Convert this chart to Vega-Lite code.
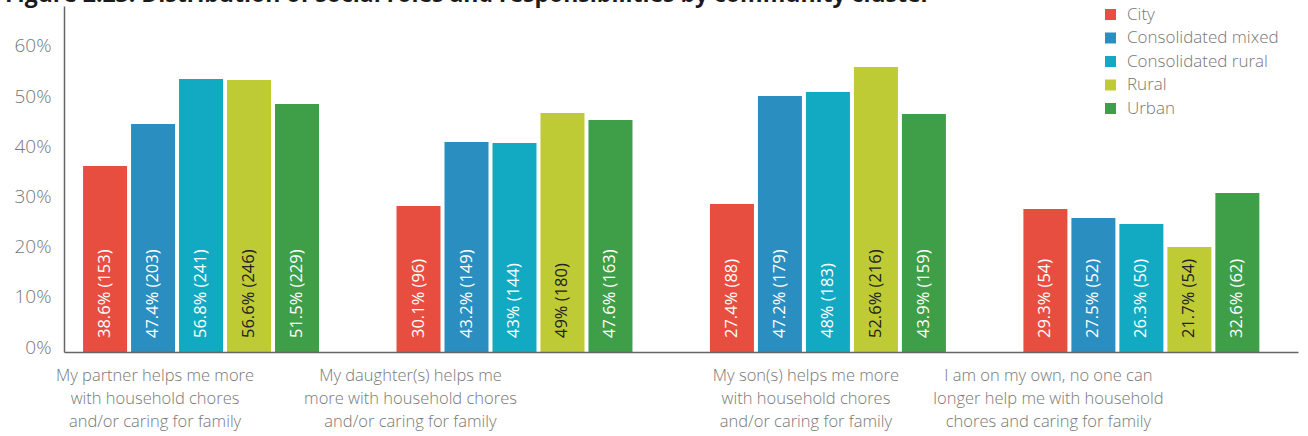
{
  "$schema": "https://vega.github.io/schema/vega-lite/v6.json",
  "autosize": "none",
  "padding": {"left": 64, "top": 6, "right": 10, "bottom": 84},
  "width": 1234,
  "height": 346,
  "background": "white",
  "title": {
    "text": "Figure 2.23: Distribution of social roles and responsibilities by community cluster",
    "anchor": "start",
    "frame": "group",
    "dx": -59,
    "offset": -19,
    "baseline": "alphabetic",
    "font": "Open Sans",
    "fontSize": 23,
    "fontWeight": "bold",
    "color": "#1a1a1a"
  },
  "config": {
    "view": {"stroke": null},
    "font": "Open Sans"
  },
  "data": {
    "values": [
      {"q": "My partner helps me more|with household chores|and/or caring for family", "cluster": "City", "bar": 37.07, "label": "38.6% (153)"},
      {"q": "My partner helps me more|with household chores|and/or caring for family", "cluster": "Consolidated mixed", "bar": 45.45, "label": "47.4% (203)"},
      {"q": "My partner helps me more|with household chores|and/or caring for family", "cluster": "Consolidated rural", "bar": 54.41, "label": "56.8% (241)"},
      {"q": "My partner helps me more|with household chores|and/or caring for family", "cluster": "Rural", "bar": 54.22, "label": "56.6% (246)"},
      {"q": "My partner helps me more|with household chores|and/or caring for family", "cluster": "Urban", "bar": 49.43, "label": "51.5% (229)"},
      {"q": "My daughter(s) helps me|more with household chores|and/or caring for family", "cluster": "City", "bar": 29.10, "label": "30.1% (96)"},
      {"q": "My daughter(s) helps me|more with household chores|and/or caring for family", "cluster": "Consolidated mixed", "bar": 41.86, "label": "43.2% (149)"},
      {"q": "My daughter(s) helps me|more with household chores|and/or caring for family", "cluster": "Consolidated rural", "bar": 41.66, "label": "43% (144)"},
      {"q": "My daughter(s) helps me|more with household chores|and/or caring for family", "cluster": "Rural", "bar": 47.64, "label": "49% (180)"},
      {"q": "My daughter(s) helps me|more with household chores|and/or caring for family", "cluster": "Urban", "bar": 46.24, "label": "47.6% (163)"},
      {"q": "My son(s) helps me more|with household chores|and/or caring for family", "cluster": "City", "bar": 29.50, "label": "27.4% (88)"},
      {"q": "My son(s) helps me more|with household chores|and/or caring for family", "cluster": "Consolidated mixed", "bar": 51.03, "label": "47.2% (179)"},
      {"q": "My son(s) helps me more|with household chores|and/or caring for family", "cluster": "Consolidated rural", "bar": 51.82, "label": "48% (183)"},
      {"q": "My son(s) helps me more|with household chores|and/or caring for family", "cluster": "Rural", "bar": 56.81, "label": "52.6% (216)"},
      {"q": "My son(s) helps me more|with household chores|and/or caring for family", "cluster": "Urban", "bar": 47.44, "label": "43.9% (159)"},
      {"q": "I am on my own, no one can|longer help me with household|chores and caring for family", "cluster": "City", "bar": 28.50, "label": "29.3% (54)"},
      {"q": "I am on my own, no one can|longer help me with household|chores and caring for family", "cluster": "Consolidated mixed", "bar": 26.71, "label": "27.5% (52)"},
      {"q": "I am on my own, no one can|longer help me with household|chores and caring for family", "cluster": "Consolidated rural", "bar": 25.51, "label": "26.3% (50)"},
      {"q": "I am on my own, no one can|longer help me with household|chores and caring for family", "cluster": "Rural", "bar": 20.93, "label": "21.7% (54)"},
      {"q": "I am on my own, no one can|longer help me with household|chores and caring for family", "cluster": "Urban", "bar": 31.69, "label": "32.6% (62)"}
    ]
  },
  "encoding": {
    "x": {
      "field": "q",
      "type": "nominal",
      "sort": null,
      "scale": {"paddingInner": 0.2025, "paddingOuter": 0.0697, "align": 0.276},
      "axis": {
        "title": null,
        "labelAngle": 0,
        "labelExpr": "split(datum.value, '|')",
        "labelFont": "Open Sans",
        "labelFontSize": 16.5,
        "labelFontWeight": 300,
        "labelColor": "#777777",
        "labelLineHeight": 23,
        "labelPadding": 15,
        "labelBaseline": "top",
        "labelLimit": 400,
        "labelOffset": {
          "condition": [
            {"test": "indexof(datum.value, 'partner') >= 0", "value": -46},
            {"test": "indexof(datum.value, 'daughter') >= 0", "value": -104},
            {"test": "indexof(datum.value, 'son(s)') >= 0", "value": -22}
          ],
          "value": -93
        },
        "ticks": false,
        "domainColor": "#666666",
        "domainWidth": 1.5,
        "zindex": 1
      }
    },
    "xOffset": {
      "field": "cluster",
      "type": "nominal",
      "sort": ["City", "Consolidated mixed", "Consolidated rural", "Rural", "Urban"],
      "scale": {"paddingInner": 0.083, "paddingOuter": 0.146}
    }
  },
  "layer": [
    {
      "mark": {"type": "bar"},
      "encoding": {
        "y": {
          "field": "bar",
          "type": "quantitative",
          "scale": {"domain": [0, 68.97], "nice": false, "zero": true},
          "axis": {
            "title": null,
            "values": [0, 10, 20, 30, 40, 50, 60],
            "labelExpr": "datum.value + '%'",
            "labelFont": "Open Sans",
            "labelFontSize": 19,
            "labelFontWeight": 300,
            "labelColor": "#777777",
            "labelOffset": -5,
            "labelPadding": 13,
            "ticks": false,
            "grid": false,
            "domainColor": "#666666",
            "domainWidth": 1.5,
            "zindex": 1
          }
        },
        "color": {
          "field": "cluster",
          "type": "nominal",
          "scale": {
            "domain": ["City", "Consolidated mixed", "Consolidated rural", "Rural", "Urban"],
            "range": ["#E84E3F", "#2A8FC0", "#12AAC2", "#BFCB35", "#3F9E48"]
          },
          "legend": {
            "title": null,
            "orient": "none",
            "legendX": 1038,
            "legendY": 0,
            "padding": 0,
            "symbolType": "square",
            "symbolSize": 121,
            "symbolStrokeWidth": 0,
            "labelFont": "Open Sans",
            "labelFontSize": 17,
            "labelFontWeight": 300,
            "labelColor": "#777777",
            "labelOffset": 8,
            "rowPadding": 5.5
          }
        }
      }
    },
    {
      "mark": {
        "type": "text",
        "angle": -90,
        "align": "left",
        "baseline": "middle",
        "dx": 14,
        "font": "Open Sans",
        "fontSize": 16.5
      },
      "encoding": {
        "y": {"datum": 0},
        "text": {"field": "label"},
        "color": {
          "condition": {"test": "datum.cluster === 'Rural'", "value": "#222222"},
          "value": "#ffffff"
        }
      }
    }
  ]
}
